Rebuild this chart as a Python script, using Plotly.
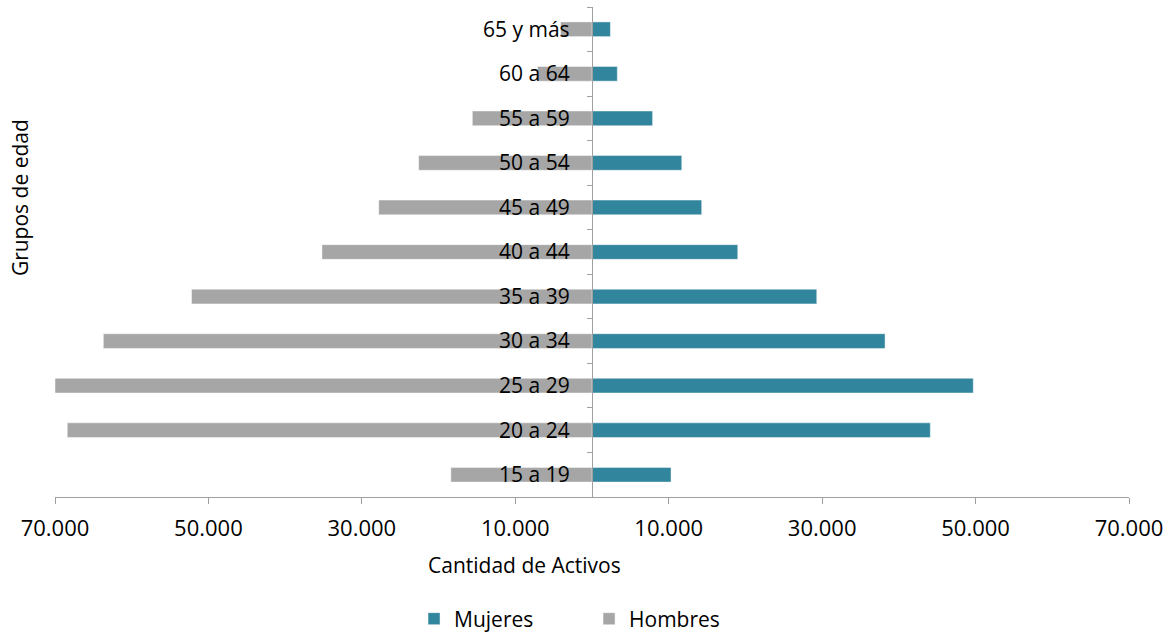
import plotly.graph_objects as go

categorias = ["15 a 19", "20 a 24", "25 a 29", "30 a 34", "35 a 39", "40 a 44",
              "45 a 49", "50 a 54", "55 a 59", "60 a 64", "65 y más"]
mujeres = [10300, 44100, 49700, 38200, 29300, 19000, 14300, 11700, 7900, 3300, 2400]
hombres = [18400, 68400, 70000, 63700, 52200, 35200, 27800, 22600, 15600, 7100, 4100]
tick_vals = [-70000, -50000, -30000, -10000, 10000, 30000, 50000, 70000]
tick_text = ["70.000", "50.000", "30.000", "10.000", "10.000", "30.000", "50.000", "70.000"]

FONT = "Open Sans"
AXIS = "#A0A0A0"

fig = go.Figure()
fig.add_trace(go.Bar(
    y=categorias, x=mujeres, orientation="h", name="Mujeres",
    marker=dict(color="#31859C", line=dict(color="rgba(255,255,255,0.45)", width=1)),
    width=0.33,
))
fig.add_trace(go.Bar(
    y=categorias, x=[-v for v in hombres], orientation="h", name="Hombres",
    marker=dict(color="#A6A6A6", line=dict(color="rgba(255,255,255,0.45)", width=1)),
    width=0.33,
))

fig.update_layout(
    width=1173, height=635,
    margin=dict(l=55, r=44, t=7, b=138, autoexpand=False),
    barmode="overlay",
    plot_bgcolor="white", paper_bgcolor="white",
    font=dict(family=FONT, size=21, color="black"),
    showlegend=True,
    legend=dict(orientation="h", x=0.3343, xanchor="left", y=-0.249, yanchor="middle",
                font=dict(size=21), entrywidth=130, traceorder="normal"),
    xaxis=dict(range=[-70000, 70000], tickvals=tick_vals, ticktext=tick_text,
               showline=True, linecolor=AXIS, linewidth=1.3, ticks="outside",
               tickcolor=AXIS, ticklen=6, tickwidth=1.3, showgrid=False, zeroline=False,
               tickfont=dict(size=22), automargin=False, ticklabelstandoff=5),
    yaxis=dict(type="category", categoryorder="array", categoryarray=categorias,
               anchor="free", position=0.5, showline=True, linecolor=AXIS, linewidth=1.3,
               ticks="outside", tickcolor=AXIS, ticklen=5, tickwidth=1.3,
               tickson="boundaries", showgrid=False, zeroline=False, automargin=False,
               ticklabelstandoff=18, tickfont=dict(size=21), layer="above traces"),
    annotations=[
        dict(text="Grupos de edad", xref="paper", yref="paper", x=-0.0326, y=0.612,
             xanchor="center", yanchor="middle",
             textangle=-90, showarrow=False, font=dict(size=21)),
        dict(text="Cantidad de Activos", xref="paper", yref="paper", x=0.4376, y=-0.139,
             xanchor="center", yanchor="middle",
             showarrow=False, font=dict(size=21)),
    ],
)

fig.write_html("out.html", config={"displayModeBar": False},
               post_script="document.body.style.margin='0';")
